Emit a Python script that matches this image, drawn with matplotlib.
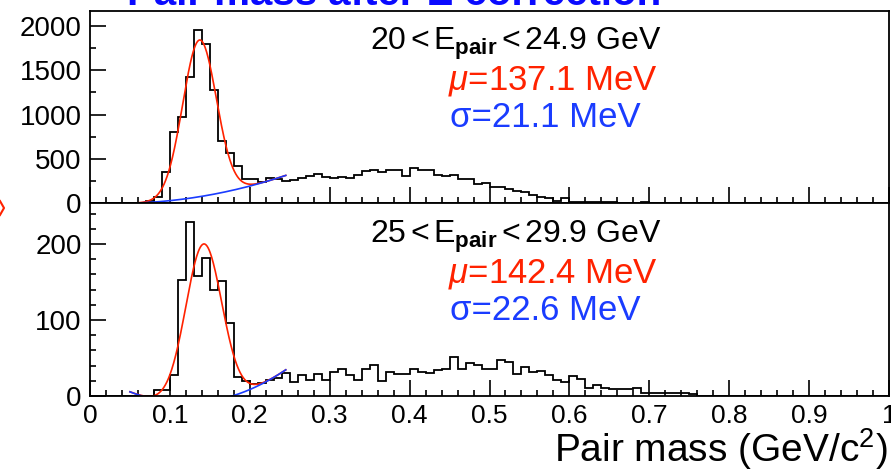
import numpy as np
import matplotlib
matplotlib.use("Agg")
import matplotlib.pyplot as plt
from matplotlib.lines import Line2D
from matplotlib.ticker import MultipleLocator, FixedLocator

plt.rcParams['font.family'] = ['Liberation Sans', 'DejaVu Sans']
plt.rcParams['mathtext.fontset'] = 'custom'
plt.rcParams['mathtext.rm'] = 'Liberation Sans'
plt.rcParams['mathtext.it'] = 'Liberation Sans:italic'
plt.rcParams['mathtext.bf'] = 'Liberation Sans:bold'

# ---- histogram data: 100 bins of 10 MeV from 0 to 1 GeV/c^2 ----
bin_edges = np.round(np.arange(0, 1.0001, 0.01), 3)

counts_20_25 = [
    0, 0, 0, 0, 0, 0, 0, 20, 64, 347,
    806, 968, 1420, 1955, 1797, 1277, 704, 562, 422, 271,
    271, 234, 286, 275, 249, 260, 286, 309, 324, 297,
    279, 297, 279, 316, 365, 373, 354, 373, 373, 309,
    392, 373, 373, 316, 309, 316, 271, 271, 211, 222,
    177, 177, 158, 139, 120, 90, 72, 53, 26, 53,
    8, 10, 6, 9, 7, 8, 5, 0, 0, 9,
    0, 0, 0, 0, 0, 0, 0, 0, 0, 0,
    0, 0, 0, 0, 0, 0, 0, 0, 0, 0,
    0, 0, 0, 0, 0, 0, 0, 0, 0, 0,
]

counts_25_30 = [
    0, 0, 0, 0, 0, 0, 0, 0, 8, 8,
    27, 153, 229, 158, 182, 139, 151, 96, 25, 20,
    16, 17, 21, 24, 30, 19, 27, 21, 29, 21,
    31, 36, 28, 21, 36, 41, 20, 31, 29, 29,
    36, 32, 30, 34, 36, 51, 36, 43, 41, 36,
    36, 48, 45, 29, 38, 31, 33, 28, 21, 18,
    26, 23, 11, 14, 10, 9, 9, 9, 11, 4,
    4, 4, 4, 4, 4, 2, 0, 0, 0, 0,
    0, 0, 0, 0, 0, 0, 0, 0, 0, 0,
    0, 0, 0, 0, 0, 0, 0, 0, 0, 0,
]

# ---- fit results (GeV) ----
mu_20_25, sigma_20_25, amp_20_25 = 0.1371, 0.0211, 1771.0
bkg_20_25 = (7066.0, 378.0, 0.06)          # c*(m-m0)^2 + d*(m-m0)
range_20_25 = (0.06, 0.245)

mu_25_30, sigma_25_30, amp_25_30 = 0.1424, 0.0226, 208.0
bkg_25_30 = (2857.0, 0.065, 0.178)         # k*(m-r1)*(m-r2)
range_25_30 = (0.05, 0.245)

energy_bins = [("20", "24.9"), ("25", "29.9")]

RED = '#ff2200'
BLUE = '#1a3cff'

W, H = 891, 469
fig = plt.figure(figsize=(W / 100, H / 100), dpi=100)


def fig_rect(x0, y0, x1, y1):
    return [x0 / W, 1 - y1 / H, (x1 - x0) / W, (y1 - y0) / H]


ax_top = fig.add_axes(fig_rect(90, 11, 889, 203))
ax_bot = fig.add_axes(fig_rect(90, 203, 889, 396))


def gauss(m, amp, mu, sig):
    return amp * np.exp(-0.5 * ((m - mu) / sig) ** 2)


def bkg_top(m):
    c, d, m0 = bkg_20_25
    return c * (m - m0) ** 2 + d * (m - m0)


def bkg_bot(m):
    k, r1, r2 = bkg_25_30
    return k * (m - r1) * (m - r2)


def style(ax, ymax, ymajor, yminor, show_xlabels):
    ax.set_xlim(0, 1)
    ax.set_ylim(0, ymax)
    for s in ax.spines.values():
        s.set_linewidth(1.3)
    ax.xaxis.set_major_locator(MultipleLocator(0.1))
    ax.xaxis.set_minor_locator(MultipleLocator(0.02))
    ax.yaxis.set_major_locator(FixedLocator(ymajor))
    ax.yaxis.set_minor_locator(MultipleLocator(yminor))
    ax.tick_params(which='both', direction='in', top=False, right=False,
                   width=1.2, pad=6)
    ax.tick_params(axis='y', labelsize=20)
    ax.tick_params(axis='x', labelsize=19)
    ax.tick_params(which='major', length=11.5)
    ax.tick_params(which='minor', length=4.5)
    ax.set_yticklabels([str(v) for v in ymajor])
    if show_xlabels:
        ax.set_xticks(np.round(np.arange(0, 1.01, 0.1), 1))
        ax.set_xticklabels(['0'] + [f'{v:.1f}' for v in np.arange(0.1, 0.95, 0.1)] + ['1'])
    else:
        ax.tick_params(axis='x', labelbottom=False)


# top panel
ax_top.stairs(counts_20_25, bin_edges, color='black', linewidth=1.3)
m = np.linspace(*range_20_25, 300)
ax_top.plot(m, gauss(m, amp_20_25, mu_20_25, sigma_20_25) + bkg_top(m), color=RED, lw=1.2)
ax_top.plot(m, bkg_top(m), color=BLUE, lw=1.2)
style(ax_top, 2170, [0, 500, 1000, 1500, 2000], 250, False)

# bottom panel
ax_bot.stairs(counts_25_30, bin_edges, color='black', linewidth=1.3)
m = np.linspace(*range_25_30, 300)
ax_bot.plot(m, gauss(m, amp_25_30, mu_25_30, sigma_25_30) + bkg_bot(m), color=RED, lw=1.2)
ax_bot.plot(m, bkg_bot(m), color=BLUE, lw=1.2)
style(ax_bot, 254, [0, 100, 200], 20, True)


def ftext(x, y, s, **kw):
    fig.text(x / W, 1 - y / H, s, va='baseline', **kw)


# x-axis title, right-aligned at the frame edge
ftext(888, 462, r'Pair mass (GeV/c$^2$)', fontsize=28, ha='right')

fits = [(mu_20_25, sigma_20_25), (mu_25_30, sigma_25_30)]
for (lo, hi), (mu, sig), y0 in zip(energy_bins, fits, (50, 243)):
    ftext(370, y0, lo + r'$\,$<$\,$E$_{\mathbf{pair}}$$\,$<$\,$' + hi + ' GeV', fontsize=23, color='black')
    ftext(448, y0 + 39, r'$\mu$' + f'={mu * 1000:.1f} MeV', fontsize=25, color=RED)
    ftext(450, y0 + 77, f'σ={sig * 1000:.1f} MeV', fontsize=25, color=BLUE)

# page title
ftext(127, 5, 'Pair mass after E correction', fontsize=29, fontweight='bold', color='#0a0aff')

# arrow tip on the left margin
fig.add_artist(Line2D([0 / W, 4 / W, 0 / W], [1 - 201 / H, 1 - 208 / H, 1 - 215 / H],
                      transform=fig.transFigure, color=RED, lw=1.5))

fig.savefig('out.png', dpi=100)
